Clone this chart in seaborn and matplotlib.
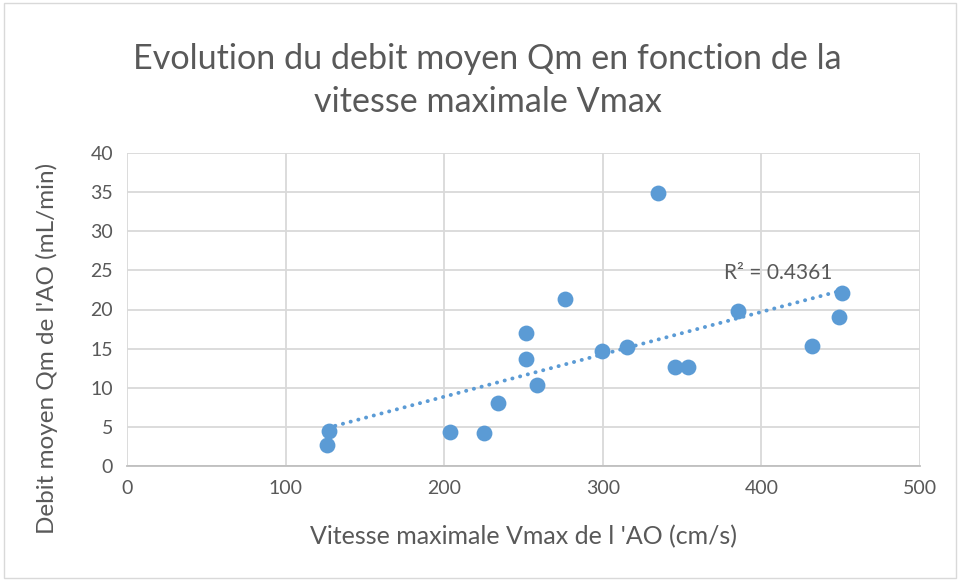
import matplotlib
matplotlib.use("Agg")
import matplotlib.pyplot as plt
import seaborn as sns
import pandas as pd
from matplotlib.patches import Rectangle

vmax = [127.4, 126.4, 203.6, 225.4, 234.0, 251.4, 251.4, 258.3, 276.3, 299.2,
        315.1, 334.5, 345.6, 353.9, 385.4, 432.1, 449.1, 450.8]
qm = [4.43, 2.72, 4.34, 4.26, 8.0, 17.0, 13.7, 10.4, 21.3, 14.7,
      15.15, 34.9, 12.7, 12.7, 19.8, 15.3, 19.1, 22.1]
x_ticks = [0, 100, 200, 300, 400, 500]
y_ticks = [0, 5, 10, 15, 20, 25, 30, 35, 40]
r2_label = "R² = 0.4361"

df = pd.DataFrame({"Vmax": vmax, "Qm": qm})

sns.set_theme(style="white")
plt.rcParams["font.family"] = ["Lato", "DejaVu Sans"]

TXT = "#595959"
BLUE = "#5b9bd5"
GRID = "#d9d9d9"

fig = plt.figure(figsize=(9.6, 5.81), dpi=100)
fig.patch.set_facecolor("white")
fig.add_artist(Rectangle((0.004, 0.006), 0.992, 0.988, transform=fig.transFigure,
                         fill=False, edgecolor="#d9d9d9", linewidth=1.0))

ax = fig.add_axes([127 / 960, (581 - 466) / 581, (920 - 127) / 960, (466 - 153) / 581])

sns.regplot(data=df, x="Vmax", y="Qm", ax=ax, ci=None, scatter=False,
            line_kws=dict(color=BLUE, linewidth=2.8, linestyle=(0, (0.05, 2.0)),
                          dash_capstyle="round", zorder=2))
sns.scatterplot(data=df, x="Vmax", y="Qm", ax=ax, color=BLUE, s=130,
                edgecolor=BLUE, linewidth=0, zorder=3)

ax.set_xlim(0, 500)
ax.set_ylim(0, 40)
ax.set_xticks(x_ticks)
ax.set_yticks(y_ticks)
ax.grid(True, color=GRID, linewidth=1.3)
ax.set_axisbelow(True)
for s in ["left", "right", "top"]:
    ax.spines[s].set_visible(False)
ax.spines["bottom"].set_color("#bfbfbf")
ax.spines["bottom"].set_linewidth(1.3)
ax.tick_params(axis="both", colors=TXT, labelsize=14, length=0, pad=10)

ax.set_xlabel("Vitesse maximale Vmax de l 'AO (cm/s)", color=TXT, fontsize=18, labelpad=20)
ax.set_ylabel("Debit moyen Qm de l'AO (mL/min)", color=TXT, fontsize=17.5)
ax.yaxis.set_label_coords(-0.087, 0.377)

ax.text(376.5, 24.7, r2_label, color=TXT, fontsize=15, va="center", ha="left")

fig.text(0.508, 0.862, "Evolution du debit moyen Qm en fonction de la\nvitesse maximale Vmax",
         ha="center", va="center", color=TXT, fontsize=24.6, linespacing=1.42)

fig.savefig("out.png", dpi=100)
